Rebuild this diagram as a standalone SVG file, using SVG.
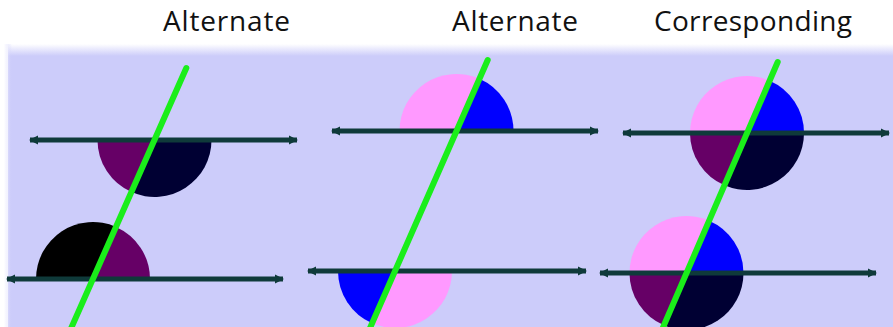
<svg xmlns="http://www.w3.org/2000/svg" width="893" height="327" viewBox="0 0 893 327">
<style>
.lbl{font-family:"Open Sans","Liberation Sans",sans-serif;font-size:28px;fill:#111}
.par{stroke:#0f3a3a;stroke-width:5;fill:none;marker-start:url(#ah);marker-end:url(#ah)}
.tr{stroke:#1aee1a;stroke-width:6;stroke-linecap:round;fill:none}
.pk{fill:#ff99ff}.bl{fill:#0000ff}.pu{fill:#660066}.nv{fill:#000033}.bk{fill:#000000}
</style>
<defs>
<linearGradient id="fade" x1="0" y1="0" x2="0" y2="1">
<stop offset="0" stop-color="#ffffff"/>
<stop offset="1" stop-color="#ccccfa"/>
</linearGradient>
<linearGradient id="fadeL" x1="0" y1="0" x2="1" y2="0">
<stop offset="0" stop-color="#ffffff"/>
<stop offset="1" stop-color="#ccccfa" stop-opacity="0"/>
</linearGradient>
<marker id="ah" viewBox="0 -5 9 10" refX="8" refY="0" markerWidth="9" markerHeight="10" markerUnits="userSpaceOnUse" orient="auto-start-reverse">
<path d="M0,-4.5 L9,0 L0,4.5 Z" fill="#0f3a3a"/>
</marker>
</defs>
<rect width="893" height="327" fill="#ffffff"/>
<rect x="8" y="44" width="885" height="12" fill="url(#fade)"/>
<rect x="8" y="56" width="885" height="271" fill="#ccccfa"/>
<rect x="4" y="44" width="8" height="283" fill="url(#fadeL)"/>

<g id="labels">
<text class="lbl" x="163" y="31" textLength="127" lengthAdjust="spacing">Alternate</text>
<text class="lbl" x="452" y="31" textLength="126" lengthAdjust="spacing">Alternate</text>
<text class="lbl" x="654" y="31" textLength="198" lengthAdjust="spacing">Corresponding</text>
</g>

<g id="panel1">
<g id="p1-angle-top">
<path class="pu" d="M154.5,140 L97.5,140 A57,57 0 0 0 131.5,192.1 Z"/>
<path class="nv" d="M154.5,140 L131.5,192.1 A57,57 0 0 0 211.5,140 Z"/>
</g>
<g id="p1-angle-bottom">
<path class="bk" d="M93,279 L36,279 A57,57 0 0 1 116,226.9 Z"/>
<path class="pu" d="M93,279 L116,226.9 A57,57 0 0 1 150,279 Z"/>
</g>
</g>

<g id="panel2">
<g id="p2-angle-top">
<path class="pk" d="M456.5,131 L399.5,131 A57,57 0 0 1 479.4,78.8 Z"/>
<path class="bl" d="M456.5,131 L479.4,78.8 A57,57 0 0 1 513.5,131 Z"/>
</g>
<g id="p2-angle-bottom">
<path class="bl" d="M395,271 L338,271 A57,57 0 0 0 372.1,323.2 Z"/>
<path class="pk" d="M395,271 L372.1,323.2 A57,57 0 0 0 452,271 Z"/>
</g>
</g>

<g id="panel3">
<g id="p3-angle-top">
<path class="pk" d="M747,133 L690,133 A57,57 0 0 1 769.6,80.7 Z"/>
<path class="bl" d="M747,133 L769.6,80.7 A57,57 0 0 1 804,133 Z"/>
<path class="pu" d="M747,133 L690,133 A57,57 0 0 0 724.4,185.3 Z"/>
<path class="nv" d="M747,133 L724.4,185.3 A57,57 0 0 0 804,133 Z"/>
</g>
<g id="p3-angle-bottom">
<path class="pk" d="M686.5,273 L629.5,273 A57,57 0 0 1 709.1,220.7 Z"/>
<path class="bl" d="M686.5,273 L709.1,220.7 A57,57 0 0 1 743.5,273 Z"/>
<path class="pu" d="M686.5,273 L629.5,273 A57,57 0 0 0 663.9,325.3 Z"/>
<path class="nv" d="M686.5,273 L663.9,325.3 A57,57 0 0 0 743.5,273 Z"/>
</g>
</g>

<g id="connectors">
<line class="par" x1="30" y1="140" x2="297" y2="140"/>
<line class="par" x1="7" y1="279" x2="283" y2="279"/>
<line class="par" x1="332" y1="131" x2="598" y2="131"/>
<line class="par" x1="308" y1="271" x2="586" y2="271"/>
<line class="par" x1="623" y1="133" x2="889" y2="133"/>
<line class="par" x1="600" y1="273" x2="876" y2="273"/>
<line class="tr" x1="186.3" y1="68" x2="69" y2="333"/>
<line class="tr" x1="487.7" y1="60" x2="367.8" y2="333"/>
<line class="tr" x1="777.7" y1="62" x2="660.6" y2="333"/>
</g>
</svg>
